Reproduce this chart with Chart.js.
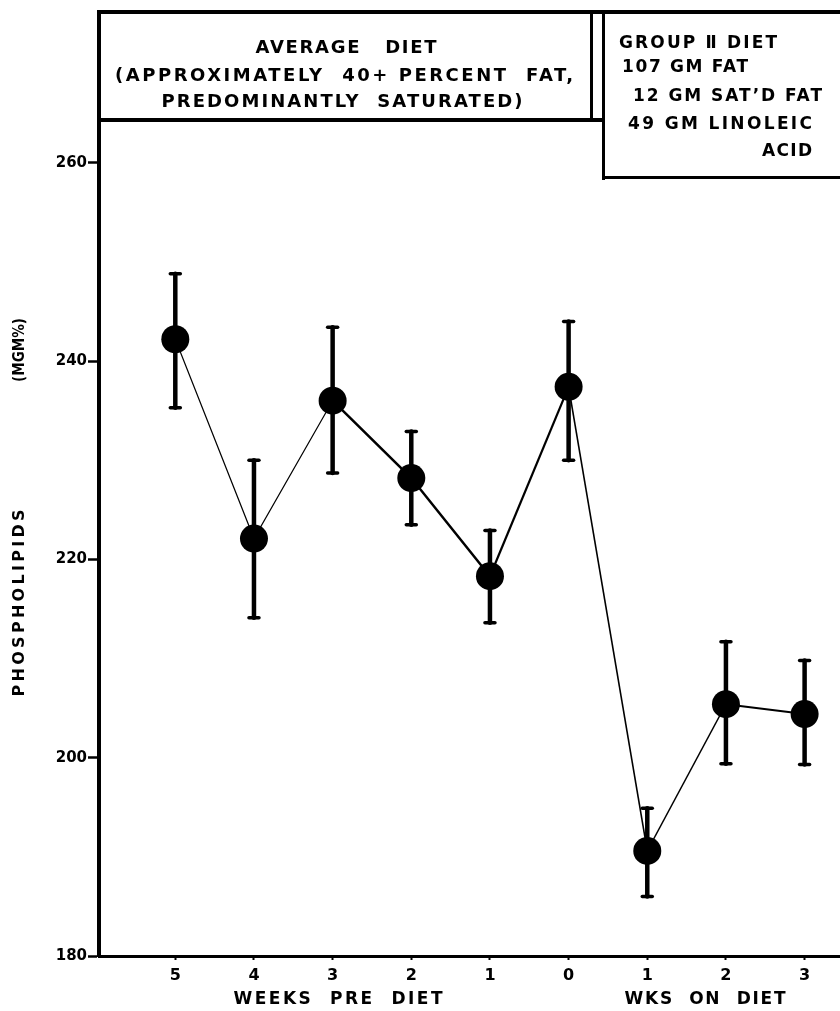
<!DOCTYPE html>
<html><head><meta charset="utf-8">
<script src="https://cdn.jsdelivr.net/npm/chart.js@4.4.1/dist/chart.umd.min.js"></script>
<style>html,body{margin:0;padding:0;background:#fff;overflow:hidden}#wrap{width:840px;height:1011px;position:relative}</style>
</head><body><div id="wrap"><canvas id="c" width="840" height="1011"></canvas></div>
<script>
// ---- data ----
const xLabels = ['5','4','3','2','1','0','1','2','3'];
const phospholipids = [242.2, 222.1, 236.0, 228.2, 218.3, 237.4, 190.6, 205.4, 204.4];
const errHigh = [248.8, 230.0, 243.4, 232.9, 222.9, 244.0, 194.9, 211.7, 209.8];
const errLow  = [235.3, 214.1, 228.7, 223.5, 213.6, 230.0, 186.0, 199.4, 199.3];
const yTicks = [180, 200, 220, 240, 260];
const yAxisTitle = ['PHOSPHOLIPIDS', '(MGM%)'];
const xAxisTitles = ['WEEKS  PRE  DIET', 'WKS  ON  DIET'];
const leftBoxLines = ['AVERAGE   DIET', '(APPROXIMATELY  40+ PERCENT  FAT,', 'PREDOMINANTLY  SATURATED)'];
const rightBoxLines = ['GROUP Ⅱ DIET', '107 GM FAT', '12 GM SAT\u2019D FAT', '49 GM LINOLEIC', 'ACID'];

const FONT = '"DejaVu Sans", "Liberation Sans", sans-serif';
const segW = [1.2, 1.2, 2.5, 2.5, 2.2, 1.6, 1.4, 2.0];

function fitText(ctx, text, x, y, w, align) {
  ctx.save();
  ctx.textAlign = 'left';
  const n = [...text].length;
  const hasLS = 'letterSpacing' in ctx;
  if (hasLS) ctx.letterSpacing = '0px';
  const nat = ctx.measureText(text).width;
  const x0 = align === 'left' ? x : align === 'right' ? x - w : x - w / 2;
  const ls = n > 1 ? (w - nat) / (n - 1) : 0;
  if (hasLS && ls >= 0) {
    ctx.letterSpacing = ls + 'px';
    ctx.fillText(text, x0, y);
  } else {
    ctx.translate(x0, y);
    ctx.scale(w / nat, 1);
    ctx.fillText(text, 0, 0);
  }
  ctx.restore();
}

const errorBars = {
  id: 'errorBars',
  beforeDatasetsDraw(chart) {
    const ctx = chart.ctx, xs = chart.scales.x, ys = chart.scales.y;
    ctx.save();
    ctx.strokeStyle = '#000';
    ctx.lineCap = 'round';
    phospholipids.forEach((v, i) => {
      const px = xs.getPixelForValue(i);
      const hi = ys.getPixelForValue(errHigh[i]);
      const lo = ys.getPixelForValue(errLow[i]);
      ctx.lineWidth = 4.5;
      ctx.beginPath(); ctx.moveTo(px, hi); ctx.lineTo(px, lo); ctx.stroke();
      ctx.lineWidth = 3.5;
      ctx.beginPath(); ctx.moveTo(px - 5, hi); ctx.lineTo(px + 5, hi); ctx.stroke();
      ctx.beginPath(); ctx.moveTo(px - 5, lo); ctx.lineTo(px + 5, lo); ctx.stroke();
    });
    ctx.restore();
  }
};

const decor = {
  id: 'decor',
  afterDraw(chart) {
    const ctx = chart.ctx;
    ctx.save();
    ctx.fillStyle = '#000';
    // frame & boxes
    ctx.fillRect(97, 10, 743, 4);
    ctx.fillRect(97, 118, 508, 4);
    ctx.fillRect(590, 10, 3, 110);
    ctx.fillRect(602, 10, 3, 170);
    ctx.fillRect(602, 176, 238, 3);
    // left box text
    ctx.font = 'bold 18px ' + FONT;
    ctx.textBaseline = 'middle';
    fitText(ctx, leftBoxLines[0], 346, 48, 181, 'center');
    fitText(ctx, leftBoxLines[1], 344, 76, 458, 'center');
    fitText(ctx, leftBoxLines[2], 342, 102, 361, 'center');
    // right box text
    ctx.font = 'bold 17px ' + FONT;
    fitText(ctx, rightBoxLines[0], 619, 44, 158, 'left');
    fitText(ctx, rightBoxLines[1], 622, 68, 126, 'left');
    fitText(ctx, rightBoxLines[2], 633, 97, 189, 'left');
    fitText(ctx, rightBoxLines[3], 628, 125, 184, 'left');
    fitText(ctx, rightBoxLines[4], 812, 152, 50, 'right');
    // x axis titles
    ctx.font = 'bold 17px ' + FONT;
    fitText(ctx, xAxisTitles[0], 338, 1000, 209, 'center');
    fitText(ctx, xAxisTitles[1], 705, 1000, 161, 'center');
    // y axis title (rotated)
    ctx.save();
    ctx.translate(20, 0);
    ctx.rotate(-Math.PI / 2);
    ctx.font = 'bold 16px ' + FONT;
    fitText(ctx, yAxisTitle[0], -603, 0, 187, 'center');
    fitText(ctx, yAxisTitle[1], -350, 0, 64, 'center');
    ctx.restore();
    ctx.restore();
  }
};

new Chart(document.getElementById('c'), {
  type: 'line',
  data: {
    datasets: [{
      data: phospholipids.map((v, i) => ({ x: i, y: v })),
      borderColor: '#000',
      borderWidth: 1.6,
      pointRadius: 14,
      pointBackgroundColor: '#000',
      pointBorderColor: '#000',
      pointBorderWidth: 0,
      tension: 0,
      clip: false,
      segment: { borderWidth: c => segW[c.p0DataIndex] }
    }]
  },
  options: {
    responsive: false,
    animation: false,
    devicePixelRatio: 1,
    layout: { autoPadding: false, padding: { top: 12, left: 0, right: 0, bottom: 0 } },
    plugins: { legend: { display: false }, tooltip: { enabled: false } },
    scales: {
      x: {
        type: 'linear', min: -0.97, max: 8.45,
        afterBuildTicks: s => { s.ticks = xLabels.map((_, i) => ({ value: i })); },
        ticks: { callback: (v, i) => xLabels[i], color: '#000', font: { family: FONT, weight: 'bold', size: 16 }, padding: 6, maxRotation: 0, autoSkip: false },
        grid: { drawOnChartArea: false, tickLength: 4, tickWidth: 2, color: '#000' },
        border: { display: true, width: 3, color: '#000' },
        afterFit: s => { s.height = 55; s.paddingLeft = 0; s.paddingRight = 0; }
      },
      y: {
        type: 'linear', min: 180, max: 275.2,
        afterBuildTicks: s => { s.ticks = yTicks.map(v => ({ value: v })); },
        ticks: { color: '#000', font: { family: FONT, weight: 'bold', size: 15 }, padding: 1 },
        grid: { drawOnChartArea: false, tickLength: 11, tickWidth: 2.5, color: '#000' },
        border: { display: true, width: 4, color: '#000' },
        afterFit: s => { s.width = 99; s.paddingTop = 0; s.paddingBottom = 0; }
      }
    }
  },
  plugins: [errorBars, decor]
});
</script></body></html>
